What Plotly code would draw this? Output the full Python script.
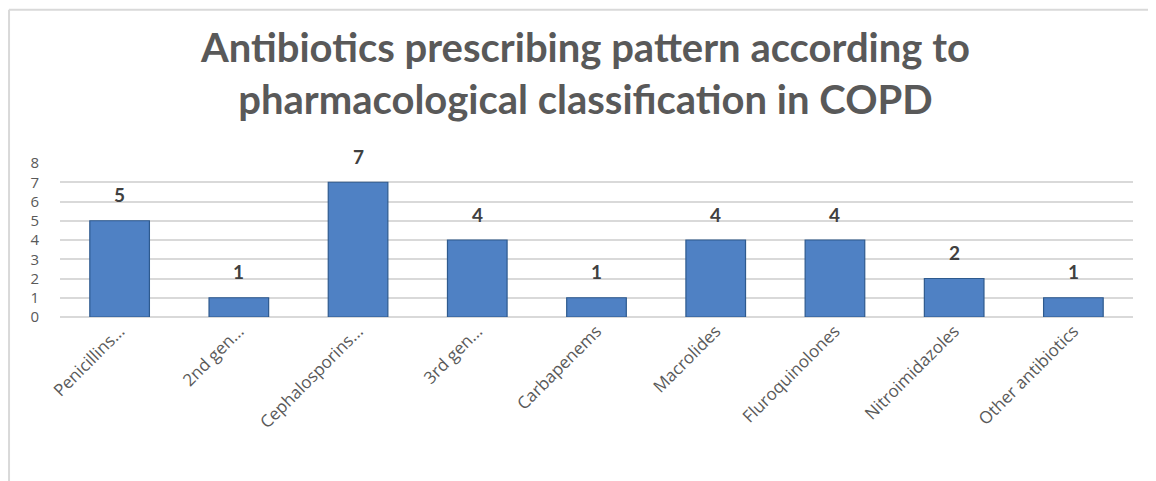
import plotly.graph_objects as go

categories = ["Penicillins...", "2nd gen...", "Cephalosporins...", "3rd gen...", "Carbapenems",
              "Macrolides", "Fluroquinolones", "Nitroimidazoles", "Other antibiotics"]
counts = [5, 1, 7, 4, 1, 4, 4, 2, 1]
y_ticks = [0, 1, 2, 3, 4, 5, 6, 7, 8]

title_text = "Antibiotics prescribing pattern according to<br>pharmacological classification in COPD"

fig = go.Figure()
fig.add_trace(go.Bar(
    x=categories, y=counts,
    marker=dict(color="#4F81C4", line=dict(color="#2E5A8E", width=1.2)),
    width=0.5,
    hoverinfo="x+y",
))

for c, v in zip(categories, counts):
    fig.add_annotation(x=c, y=v, text=f"<b>{v}</b>", showarrow=False, yshift=26,
                       font=dict(family="Lato, Open Sans, sans-serif", size=19, color="#404040"))

fig.add_annotation(xref="paper", yref="paper", x=0.489, y=1.584, xanchor="center", yanchor="middle",
                   text=f"<b>{title_text}</b>", showarrow=False,
                   font=dict(family="Lato, Open Sans, sans-serif", size=40, color="#595959"))

fig.update_layout(
    width=1148, height=473,
    margin=dict(l=52, r=23, t=155, b=164),
    paper_bgcolor="white", plot_bgcolor="white",
    showlegend=False,
    xaxis=dict(tickangle=-45, tickfont=dict(family="Open Sans, sans-serif", size=17, color="#595959"),
               showline=False, showgrid=False, ticks="", automargin=False),
    yaxis=dict(range=[0, 8], tickvals=y_ticks, showgrid=True, gridcolor="#D9D9D9", gridwidth=1.5,
               zeroline=True, zerolinecolor="#D9D9D9", zerolinewidth=1.5,
               tickfont=dict(family="Open Sans, sans-serif", size=15, color="#595959"),
               ticklabelstandoff=20, automargin=False),
    bargap=0.5,
    shapes=[
        dict(type="line", xref="paper", yref="paper", x0=-0.0475, x1=1.03, y0=1.995, y1=1.995,
             line=dict(color="#D9D9D9", width=2)),
        dict(type="line", xref="paper", yref="paper", x0=-0.0475, x1=-0.0475, y0=1.995, y1=-1.1,
             line=dict(color="#D9D9D9", width=2)),
    ],
)

fig.write_html("out.html")
